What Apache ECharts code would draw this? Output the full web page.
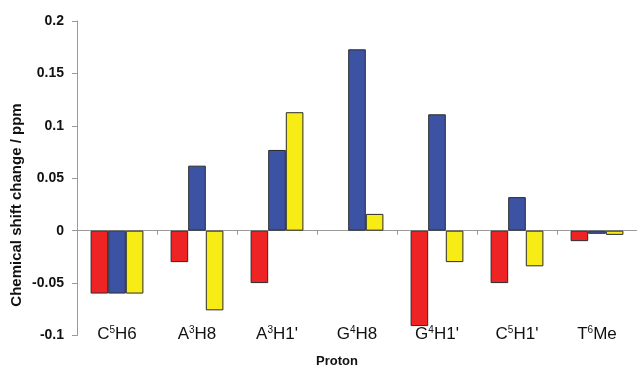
<!DOCTYPE html>
<html><head><meta charset="utf-8">
<script src="https://cdn.jsdelivr.net/npm/echarts@6/dist/echarts.min.js"></script>
<style>html,body{margin:0;padding:0;background:#fff}#c{width:637px;height:367px}</style>
</head><body><div id="c"></div>
<script>
var categories = ['C{s|5}H6', 'A{s|3}H8', 'A{s|3}H1\'', 'G{s|4}H8', 'G{s|4}H1\'', 'C{s|5}H1\'', 'T{s|6}Me'];
var seriesRed = [-0.06, -0.030, -0.050, null, -0.091, -0.050, -0.010];
var seriesBlue = [-0.06, 0.062, 0.077, 0.173, 0.111, 0.032, -0.003];
var seriesYellow = [-0.06, -0.076, 0.113, 0.016, -0.030, -0.034, -0.004];
var yTicks = { min: -0.1, max: 0.2, interval: 0.05 };
var yTitle = 'Chemical shift change / ppm';
var xTitle = 'Proton';

var chart = echarts.init(document.getElementById('c'), null, {renderer: 'canvas'});
function bar(name, data, color) {
  return {
    name: name, type: 'bar', data: data, barGap: '0%', barCategoryGap: '34%',
    itemStyle: { color: color, borderColor: '#2a2a2a', borderWidth: 1 }
  };
}
chart.setOption({
  animation: false,
  grid: { left: 77, right: 0, top: 21, bottom: 31.5, containLabel: false },
  xAxis: [
    { type: 'category', data: categories, position: 'bottom', offset: -10,
      axisLine: { show: false, onZero: false }, axisTick: { show: false },
      axisLabel: { interval: 0, margin: 0, color: '#111', fontFamily: 'Liberation Sans', fontSize: 17,
        formatter: function (v) { return v; },
        rich: { s: { fontSize: 10, verticalAlign: 'top', padding: [0, 0, 8, 0], fontFamily: 'Liberation Sans', color: '#111' } } } },
    { type: 'category', data: categories, position: 'bottom',
      axisLine: { show: true, onZero: true, lineStyle: { color: '#9a9a9a', width: 1 } },
      axisTick: { show: true, interval: 0, length: 4, lineStyle: { color: '#9a9a9a' } },
      axisLabel: { show: false } }
  ],
  yAxis: {
    type: 'value', min: yTicks.min, max: yTicks.max, interval: yTicks.interval,
    splitLine: { show: false },
    axisLine: { show: true, lineStyle: { color: '#9a9a9a', width: 1 } },
    axisTick: { show: true, length: 5, lineStyle: { color: '#9a9a9a' } },
    axisLabel: { margin: 13, color: '#111', fontFamily: 'Liberation Sans', fontWeight: 'bold', fontSize: 14,
      formatter: function (v) { return String(Math.round(v * 100) / 100); } }
  },
  graphic: [
    { type: 'text', x: 17, y: 205, rotation: Math.PI / 2,
      style: { text: yTitle, fill: '#111', font: 'bold 15px "Liberation Sans"', textAlign: 'center', textVerticalAlign: 'middle' } },
    { type: 'text', x: 337, y: 361,
      style: { text: xTitle, fill: '#111', font: 'bold 13px "Liberation Sans"', textAlign: 'center', textVerticalAlign: 'middle' } }
  ],
  series: [
    bar('Red', seriesRed, '#ee2424'),
    bar('Blue', seriesBlue, '#3c53a4'),
    bar('Yellow', seriesYellow, '#f8ec17')
  ]
});
</script></body></html>
